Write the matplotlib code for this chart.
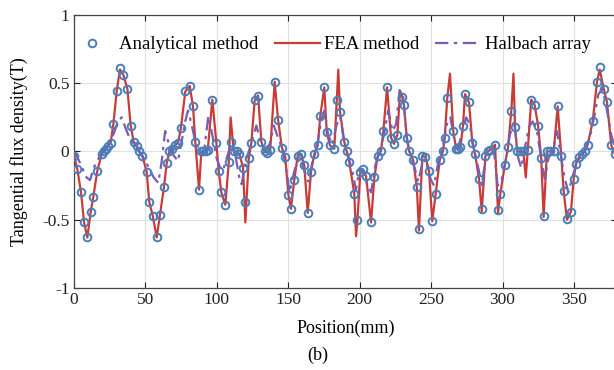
import numpy as np
import matplotlib
matplotlib.use("Agg")
import matplotlib.pyplot as plt

plt.rcParams['font.family'] = ['Liberation Serif', 'DejaVu Serif']
plt.rcParams['mathtext.fontset'] = 'stix'

nan = np.nan
# Positions (mm) shared by the analytical markers and the FEA curve
x_pos = [0.3, 2.6, 5.2, 7.3, 9.6, 12.0, 13.8, 16.6, 19.6, 21.0, 22.5, 24.0, 25.9, 27.8,
         30.1, 32.4, 34.8, 37.6, 39.9, 42.0, 44.0, 46.0, 48.0, 51.1, 52.9, 55.3, 58.1,
         60.4, 63.2, 65.1, 67.0, 69.0, 71.0, 73.0, 75.0, 78.1, 81.2, 83.5, 85.1, 87.7,
         89.3, 90.8, 92.3, 93.8, 97.0, 99.8, 101.5, 103.3, 106.1, 108.5, 109.8, 112.0,
         114.0, 116.0, 118.5, 120.1, 122.5, 124.3, 126.6, 129.0, 131.3, 133.5, 135.5,
         137.5, 140.6, 143.0, 145.7, 148.0, 150.2, 152.0, 154.3, 156.7, 159.0, 161.3,
         163.7, 166.0, 168.3, 170.7, 172.5, 175.3, 177.0, 179.3, 182.3, 184.0, 185.1,
         186.3, 189.3, 191.0, 192.8, 196.3, 197.5, 198.5, 200.5, 202.3, 204.5, 208.0,
         210.3, 212.7, 215.0, 216.6, 219.2, 222.0, 224.0, 226.4, 228.3, 229.4, 231.0,
         233.0, 234.5, 237.5, 240.0, 241.5, 243.9, 246.0, 248.5, 250.8, 253.2, 256.0,
         258.4, 259.5, 261.3, 263.2, 265.5, 267.5, 269.0, 270.5, 272.3, 273.7, 276.5,
         278.8, 280.7, 283.5, 285.4, 288.0, 289.5, 291.0, 294.7, 296.8, 298.4, 301.5,
         303.8, 306.1, 307.6, 308.7, 310.2, 312.2, 314.5, 316.2, 317.6, 320.0, 322.4,
         324.8, 327.0, 328.7, 331.0, 333.4, 335.7, 338.5, 341.0, 342.7, 345.0, 347.8,
         349.7, 351.3, 353.5, 355.5, 357.5, 359.5, 363.0, 366.0, 367.9, 370.7, 373.0,
         376.0, 378.5]

analytical = [-0.03, -0.13, -0.30, -0.515, -0.63, -0.44, -0.33, -0.14, -0.02, 0.00, 0.02, 0.04,
              0.064, 0.20, 0.44, 0.61, 0.56, 0.46, 0.19, 0.07, 0.04, 0.00, -0.03, -0.15, -0.37,
              -0.47, -0.63, -0.465, -0.26, -0.086, 0.00, 0.02, 0.05, 0.06, 0.17, 0.44, 0.48,
              0.33, 0.07, -0.28, 0.00, 0.00, 0.00, 0.01, 0.38, 0.064, -0.145, -0.30, -0.39,
              -0.08, 0.07, 0.00, 0.00, -0.02, -0.12, -0.37, -0.05, 0.064, 0.375, 0.41, 0.07,
              0.00, -0.01, 0.01, 0.51, 0.23, 0.025, -0.04, -0.32, -0.42, -0.21, -0.03, -0.02,
              -0.10, -0.45, -0.15, -0.02, 0.044, 0.26, 0.47, 0.14, 0.044, 0.02, 0.375, nan,
              0.29, 0.07, 0.00, -0.08, -0.31, nan, -0.50, -0.15, -0.13, -0.18, -0.52, -0.19,
              -0.03, 0.007, 0.15, 0.47, 0.10, 0.056, 0.12, nan, 0.40, 0.34, 0.10, 0.007,
              -0.066, -0.26, -0.57, -0.03, -0.04, -0.14, -0.51, -0.31, -0.066, 0.007, 0.10,
              0.39, nan, 0.147, 0.02, 0.02, 0.03, 0.19, 0.42, 0.36, 0.064, -0.017, -0.20,
              -0.42, -0.03, 0.00, 0.01, 0.05, -0.43, -0.31, -0.10, 0.03, 0.30, nan, 0.18,
              0.00, 0.00, 0.00, nan, 0.01, 0.38, 0.34, 0.19, -0.05, -0.47, 0.00, 0.00, 0.00,
              0.33, -0.03, -0.29, -0.495, -0.44, -0.20, -0.09, -0.04, -0.02, 0.00, 0.05,
              0.22, 0.51, 0.62, 0.46, 0.36, 0.044, -0.02]

fea = [-0.03, -0.13, -0.30, -0.52, -0.63, -0.44, -0.33, -0.14, -0.02, 0.00, 0.02, 0.04,
       0.064, 0.20, 0.44, 0.60, 0.56, 0.46, 0.19, 0.07, 0.04, 0.00, -0.03, -0.15, -0.37,
       -0.47, -0.63, -0.465, -0.26, -0.086, 0.00, 0.02, 0.05, 0.06, 0.17, 0.44, 0.48,
       0.33, 0.07, -0.28, 0.00, 0.00, 0.00, 0.01, 0.38, 0.064, -0.145, -0.30, -0.39,
       -0.08, 0.25, 0.00, 0.00, -0.02, -0.12, -0.52, -0.05, 0.064, 0.375, 0.41, 0.07,
       0.00, -0.01, 0.01, 0.51, 0.23, 0.025, -0.04, -0.32, -0.42, -0.21, -0.03, -0.02,
       -0.10, -0.45, -0.15, -0.02, 0.044, 0.26, 0.47, 0.14, 0.044, 0.02, 0.375, 0.60,
       0.29, 0.07, 0.00, -0.08, -0.31, -0.62, -0.50, -0.15, -0.13, -0.18, -0.52, -0.19,
       -0.03, 0.007, 0.15, 0.47, 0.10, 0.056, 0.12, 0.44, 0.42, 0.34, 0.10, 0.007,
       -0.066, -0.26, -0.58, -0.03, -0.04, -0.14, -0.51, -0.31, -0.066, 0.007, 0.10,
       0.39, 0.57, 0.147, 0.02, 0.02, 0.03, 0.19, 0.42, 0.36, 0.064, -0.017, -0.20,
       -0.44, -0.03, 0.00, 0.01, 0.05, -0.45, -0.31, -0.10, 0.03, 0.30, 0.57, 0.18,
       0.00, 0.00, 0.00, -0.19, 0.01, 0.38, 0.34, 0.19, -0.05, -0.48, 0.00, 0.00, 0.00,
       0.33, -0.03, -0.29, -0.50, -0.44, -0.20, -0.09, -0.04, -0.02, 0.00, 0.05,
       0.22, 0.51, 0.60, 0.46, 0.36, 0.044, -0.02]

# Halbach array curve
halbach_pos = [0, 3, 6, 9, 11.5, 14, 17, 20, 24, 28, 31, 33.6, 36, 39, 42.5, 47, 50, 53, 56,
               59.2, 61.5, 64, 66.5, 70, 73, 76, 78, 80, 82, 85, 88, 91, 94.2, 97, 100, 102.5,
               104.5, 107, 110, 113, 116, 117.5, 119, 121, 124, 127.8, 130.5, 133.5, 137, 140,
               143, 146, 149, 151, 153.5, 156, 159, 161.5, 164, 167, 170, 173, 175.5, 178, 181,
               184, 186.5, 189, 192, 195, 197.5, 200, 203, 205.5, 208, 211, 214, 217, 220, 223,
               225.5, 228, 230.5, 233, 236, 238.5, 241, 244, 247, 249.5, 252, 255, 258, 261,
               263.5, 266, 269, 272, 274.5, 277, 280, 283, 285.5, 288, 291, 294, 296.5, 299,
               302, 305, 308, 311, 313, 316, 318.5, 321, 324, 327, 329.5, 332, 335, 338, 341,
               343.5, 346, 349, 352, 355, 358, 361, 364, 367, 370, 373, 376, 378]
halbach = [0.0, -0.05, -0.12, -0.19, -0.21, -0.12, -0.06, 0.0, 0.05, 0.13, 0.22, 0.25, 0.18,
           0.10, 0.05, -0.02, -0.06, -0.13, -0.19, -0.23, -0.08, 0.15, 0.06, -0.03, -0.07,
           0.10, 0.22, 0.30, 0.22, 0.08, 0.00, -0.02, 0.26, 0.12, -0.05, -0.12, -0.14, -0.05,
           0.05, -0.02, -0.20, -0.24, -0.15, -0.05, 0.05, 0.19, 0.08, 0.02, 0.05, 0.19, 0.10,
           0.02, -0.15, -0.30, -0.18, -0.08, -0.05, -0.15, -0.22, -0.08, 0.02, 0.22, 0.30,
           0.12, 0.05, 0.20, 0.25, 0.08, -0.03, -0.15, -0.28, -0.12, -0.15, -0.25, -0.30,
           -0.10, 0.00, 0.12, 0.30, 0.15, 0.20, 0.45, 0.40, 0.10, -0.05, -0.12, -0.22, -0.08,
           -0.10, -0.20, -0.25, -0.08, 0.02, 0.20, 0.25, 0.10, 0.03, 0.15, 0.25, 0.20, 0.02,
           -0.12, -0.25, -0.05, -0.02, 0.00, -0.25, -0.22, -0.08, 0.12, 0.22, -0.05, -0.12,
           0.05, 0.18, 0.22, 0.15, -0.05, -0.20, -0.05, 0.00, 0.15, -0.05, -0.20, -0.30,
           -0.18, -0.08, -0.03, 0.02, 0.10, 0.25, 0.42, 0.46, 0.30, 0.12, 0.05]

x_ticks = [0, 50, 100, 150, 200, 250, 300, 350]
y_ticks = [-1, -0.5, 0, 0.5, 1]
y_ticklabels = ['-1', '-0.5', '0', '0.5', '1']

blue = '#4a7ebb'
red = '#c83c38'
purple = '#7a5cb5'

fig = plt.figure(figsize=(6.14, 3.70), dpi=100)
ax = fig.add_axes([0.1199, 0.2216, 0.885, 0.738])

ax.plot(x_pos, fea, color=red, lw=1.6, zorder=3, label='FEA method')
ax.plot(halbach_pos, halbach, color=purple, lw=1.6, zorder=4,
        dashes=(6, 2.5, 1.5, 2.5), label='Halbach array')
ax.plot(x_pos, analytical, linestyle='none', marker='o', ms=5.5, mfc='none',
        mec=blue, mew=1.4, zorder=5, label='Analytical method')

ax.set_xlim(0, 380)
ax.set_ylim(-1, 1)
ax.set_xticks(x_ticks)
ax.set_yticks(y_ticks)
ax.set_yticklabels(y_ticklabels)
ax.grid(True, color='#e0e0e0', lw=0.8)
ax.set_axisbelow(True)
ax.tick_params(direction='in', length=4, width=0.8, top=True, right=True,
               labelsize=12.5, colors='#222222', pad=3)
for s in ax.spines.values():
    s.set_color('#444444')
    s.set_linewidth(0.9)

ax.set_xlabel('Position(mm)', fontsize=13, labelpad=8)
ax.set_ylabel('Tangential flux density(T)', fontsize=13, labelpad=10)

h, l = ax.get_legend_handles_labels()
order = [2, 0, 1]
ax.legend([h[i] for i in order], [l[i] for i in order], loc='upper left',
          bbox_to_anchor=(-0.021, 0.95), ncol=3, frameon=False, fontsize=13.5,
          handlelength=2.4, handletextpad=0.25, columnspacing=0.85, borderaxespad=0.0)

fig.text(0.518, 0.04, '(b)', ha='center', va='center', fontsize=13)

fig.savefig('out.png', dpi=100)
